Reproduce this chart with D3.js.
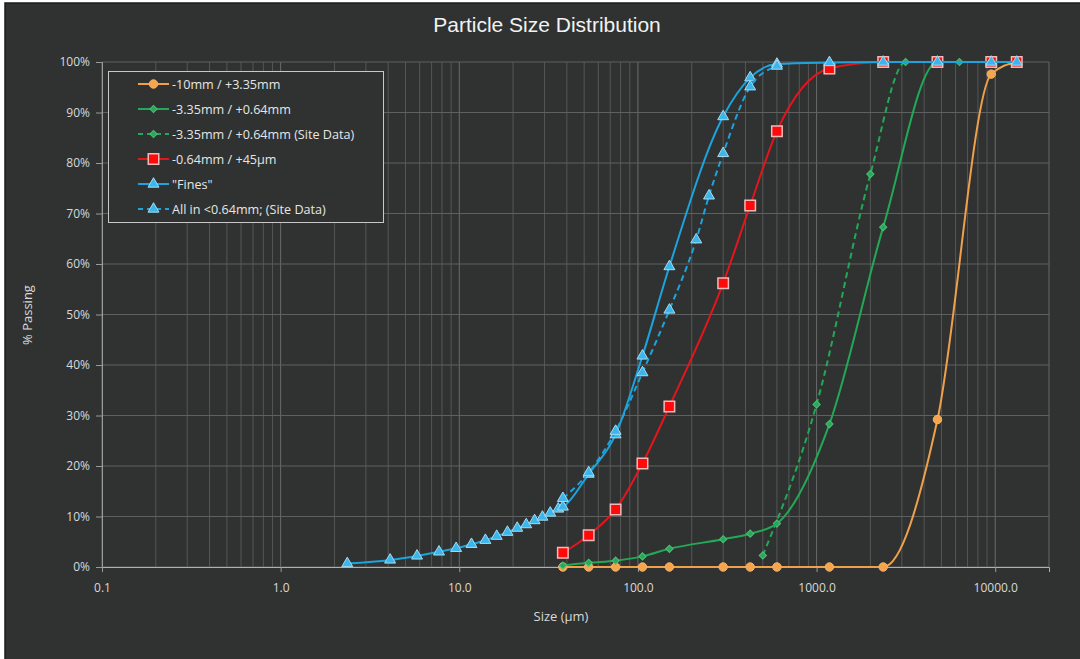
<!DOCTYPE html>
<html><head><meta charset="utf-8">
<script src="https://cdn.jsdelivr.net/npm/d3@7"></script>
<style>
html,body{margin:0;padding:0;background:#ffffff;}
svg{display:block;}
</style></head>
<body>
<svg id="chart" width="1080" height="659"></svg>
<script>
// ---- data ----
const sieveSizes = [38, 53, 75, 106, 150, 300, 425, 600, 1180, 2360, 4750, 9500, 13200];
const coarseValues = [0, 0, 0, 0, 0, 0, 0, 0, 0, 0, 29.2, 97.6, 100];
const midValues = [0.3, 0.85, 1.25, 2.1, 3.6, 5.5, 6.6, 8.6, 28.3, 67.3, 100, 100, 100];
const siteMidSizes = [500, 1000, 2000, 3150, 6300];
const siteMidValues = [2.3, 32.2, 77.8, 100, 100];
const fineValues = [2.8, 6.3, 11.4, 20.5, 31.8, 56.2, 71.6, 86.3, 98.7, 100, 100, 100, 100];
const finesSizes = [2.36, 4.1, 5.8, 7.7, 9.6, 11.7, 14.0, 16.2, 18.6, 21.1, 23.7, 26.4, 29.2, 32.3, 35.8, 38, 53, 75, 106, 150, 300, 425, 600, 1180, 2360, 4750, 9500, 13200];
const finesValues = [0.7, 1.4, 2.2, 3.0, 3.7, 4.5, 5.3, 6.1, 6.9, 7.7, 8.4, 9.2, 9.9, 10.7, 11.5, 11.9, 18.4, 26.2, 41.8, 59.5, 89.2, 96.9, 99.6, 99.9, 100, 100, 100, 100];
const siteFinesSizes = [38, 53, 75, 106, 150, 212, 250, 300, 425, 600];
const siteFinesValues = [13.6, 18.7, 26.9, 38.5, 50.9, 64.8, 73.5, 81.9, 95.1, 99.2];
const xTickValues = [0.1, 1, 10, 100, 1000, 10000];
const yTickValues = [0, 10, 20, 30, 40, 50, 60, 70, 80, 90, 100];
const seriesNames = ["-10mm / +3.35mm", "-3.35mm / +0.64mm", "-3.35mm / +0.64mm (Site Data)", "-0.64mm / +45µm", "\"Fines\"", "All in <0.64mm; (Site Data)"];

// ---- layout ----
const W = 1080, H = 659;
const m = {left: 102, right: 1049, top: 62, bottom: 567};
const svg = d3.select("#chart");
const font = "'Open Sans', 'Noto Sans', sans-serif";

svg.append("rect").attr("x", 5).attr("y", 3).attr("width", W - 4).attr("height", H)
  .attr("fill", "#2f3231").attr("stroke", "#1b1c1c").attr("stroke-width", 1.5);

const x = d3.scaleLog().domain([0.1, 20000]).range([m.left, m.right]);
const y = d3.scaleLinear().domain([0, 100]).range([m.bottom, m.top]);

// minor grid
const minor = [];
for (let e = -1; e <= 4; e++) for (let k = 1; k <= 9; k++) minor.push(k * Math.pow(10, e));
minor.push(20000);
svg.append("g").selectAll("line").data(minor).join("line")
  .attr("x1", d => x(d)).attr("x2", d => x(d)).attr("y1", m.top).attr("y2", m.bottom)
  .attr("stroke", d => xTickValues.includes(d) ? "#6a6b6b" : "#555757").attr("stroke-width", 1);
// horizontal grid
svg.append("g").selectAll("line").data(yTickValues).join("line")
  .attr("x1", m.left).attr("x2", m.right).attr("y1", d => y(d)).attr("y2", d => y(d))
  .attr("stroke", "#5f6060").attr("stroke-width", 1);

// axes
const yAxis = svg.append("g").attr("transform", `translate(${m.left},0)`)
  .call(d3.axisLeft(y).tickValues(yTickValues).tickFormat(d => d + "%").tickSize(6).tickPadding(6));
const xAxis = svg.append("g").attr("transform", `translate(0,${m.bottom})`)
  .call(d3.axisBottom(x).tickValues(xTickValues).tickFormat(d3.format(".1f")).tickSize(5).tickPadding(11));
[yAxis, xAxis].forEach(a => {
  a.select(".domain").attr("stroke", "#9a9b9b");
  a.selectAll(".tick line").attr("stroke", "#9a9b9b");
  a.selectAll("text").attr("fill", "#d9d9d9").style("font-family", font).style("font-size", "12px");
});
xAxis.select(".domain").attr("stroke", "#b0b0b0");

// titles
svg.append("text").attr("x", 547).attr("y", 32).attr("text-anchor", "middle")
  .attr("fill", "#f2f2f2").style("font-family", "'Liberation Sans', Arial, sans-serif").style("font-size", "21px")
  .text("Particle Size Distribution");
svg.append("text").attr("transform", "translate(32,315) rotate(-90)").attr("text-anchor", "middle")
  .attr("fill", "#d9d9d9").style("font-family", font).style("font-size", "13px").text("% Passing");
svg.append("text").attr("x", 561).attr("y", 621).attr("text-anchor", "middle")
  .attr("fill", "#d9d9d9").style("font-family", font).style("font-size", "13px").text("Size (µm)");

// series
const C = {orange: "#f0a04a", green: "#23a855", red: "#e3161c", blue: "#1ea3dc"};
const series = [
  {name: seriesNames[0], xs: sieveSizes, ys: coarseValues, color: C.orange, dash: null, marker: "circle", fill: "#f5a54e", stroke: "#f7b46a"},
  {name: seriesNames[1], xs: sieveSizes, ys: midValues, color: C.green, dash: null, marker: "diamond", fill: "#2aa85a", stroke: "#4cc07a"},
  {name: seriesNames[2], xs: siteMidSizes, ys: siteMidValues, color: C.green, dash: "6,4", marker: "diamond", fill: "#2aa85a", stroke: "#4cc07a"},
  {name: seriesNames[3], xs: sieveSizes, ys: fineValues, color: C.red, dash: null, marker: "square", fill: "#ff0a0a", stroke: "#f3b9b9"},
  {name: seriesNames[4], xs: finesSizes, ys: finesValues, color: C.blue, dash: null, marker: "triangle", fill: "#3cb6ea", stroke: "#a5dcf2"},
  {name: seriesNames[5], xs: siteFinesSizes, ys: siteFinesValues, color: C.blue, dash: "6,4", marker: "triangle", fill: "#3cb6ea", stroke: "#a5dcf2"}
];
const symbols = {
  circle: d3.symbol().type(d3.symbolCircle).size(56),
  diamond: d3.symbol().type(d3.symbolSquare).size(26),
  square: d3.symbol().type(d3.symbolSquare).size(110),
  triangle: d3.symbol().type(d3.symbolTriangle).size(52)
};
function drawMarker(g, s, cx, cy) {
  return g.append("path").attr("d", symbols[s.marker]())
    .attr("transform", `translate(${cx},${cy})` + (s.marker === "diamond" ? " rotate(45)" : ""))
    .attr("fill", s.fill).attr("stroke", s.stroke)
    .attr("stroke-width", s.marker === "square" ? 1.5 : 1);
}
const line = d3.line().curve(d3.curveMonotoneX);
series.forEach(s => {
  const pts = s.xs.map((v, i) => [x(v), y(s.ys[i])]);
  const g = svg.append("g");
  g.append("path").attr("d", line(pts)).attr("fill", "none").attr("stroke", s.color)
    .attr("stroke-width", 2).attr("stroke-dasharray", s.dash);
  pts.forEach(p => drawMarker(g, s, p[0], p[1]));
});

// legend
const lg = svg.append("g");
lg.append("rect").attr("x", 108.5).attr("y", 71.5).attr("width", 275).attr("height", 151)
  .attr("fill", "#2f3231").attr("stroke", "#c8c8c8").attr("stroke-width", 1);
series.forEach((s, i) => {
  const yy = 84 + i * 25;
  lg.append("line").attr("x1", 138).attr("x2", 169).attr("y1", yy).attr("y2", yy)
    .attr("stroke", s.color).attr("stroke-width", 2).attr("stroke-dasharray", s.dash ? "5,4" : null);
  drawMarker(lg, s, 153.5, yy);
  lg.append("text").attr("x", 172).attr("y", yy + 4.5).attr("fill", "#e6e6e6")
    .style("font-family", font).style("font-size", "12.6px").text(s.name);
});
</script>
</body></html>
